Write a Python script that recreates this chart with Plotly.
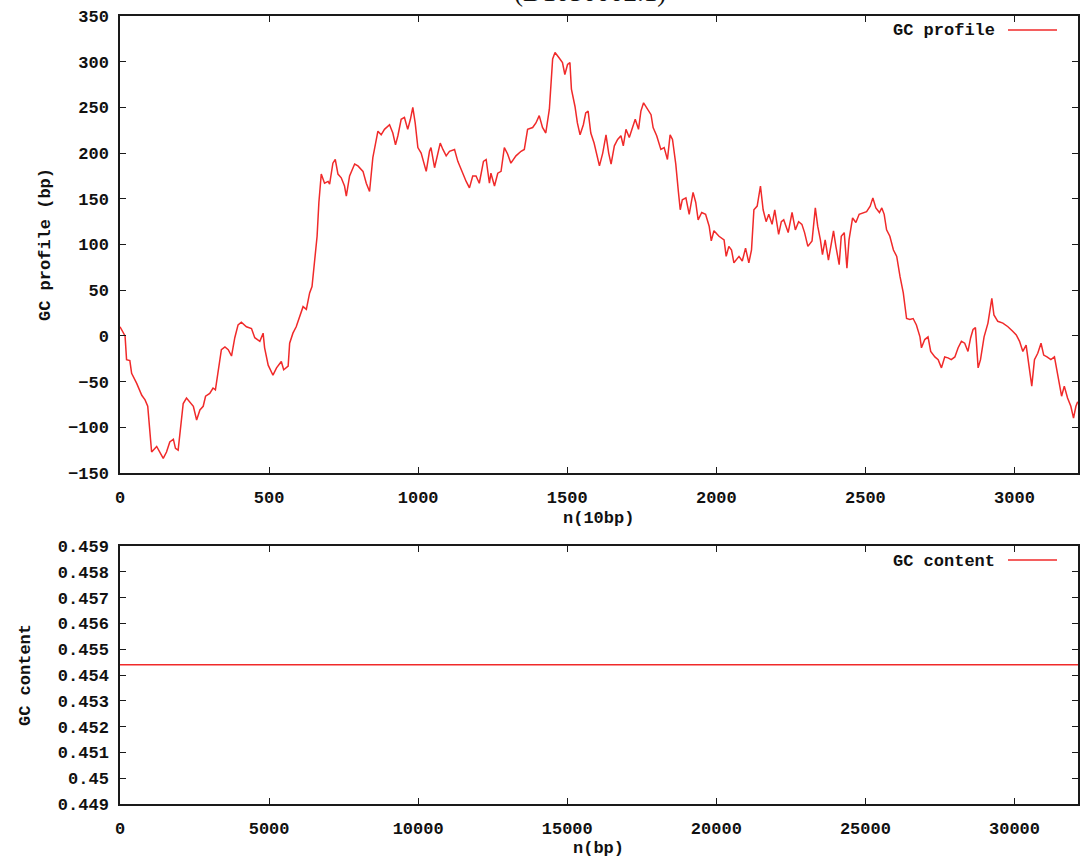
import plotly.graph_objects as go

# GC profile (cumulative GC skew), position in units of 10 bp
profile_x = [
    0, 17, 22, 33, 39, 56, 73, 84, 93, 106, 123, 134, 145, 156, 167, 179, 186, 195,
    206, 212, 223, 234, 246, 257, 268, 279, 287, 301, 312, 320, 329, 340, 352, 363,
    374, 385, 396, 407, 424, 441, 452, 469, 480, 485, 497, 513, 525, 541, 549, 564,
    569, 580, 591, 603, 614, 625, 636, 644, 653, 661, 667, 675, 686, 698, 703, 714,
    722, 731, 742, 753, 759, 770, 787, 798, 815, 826, 837, 848, 865, 876, 887, 904,
    915, 924, 932, 943, 954, 965, 974, 982, 990, 999, 1010, 1021, 1027, 1038, 1043,
    1055, 1066, 1074, 1083, 1094, 1105, 1122, 1133, 1149, 1161, 1172, 1183, 1194,
    1205, 1219, 1228, 1239, 1244, 1256, 1267, 1278, 1289, 1300, 1311, 1328, 1345,
    1356, 1367, 1384, 1395, 1406, 1417, 1428, 1440, 1451, 1459, 1473, 1484, 1492,
    1501, 1509, 1514, 1526, 1534, 1543, 1554, 1562, 1570, 1579, 1590,
    1608, 1619, 1630, 1639, 1647, 1658, 1669, 1680, 1688, 1697, 1708, 1719, 1728,
    1739, 1747, 1756, 1769, 1781, 1788, 1800, 1814, 1825, 1836, 1845, 1853, 1864,
    1873, 1879, 1886, 1898, 1909, 1922, 1931, 1939, 1951, 1964, 1976, 1983, 1992,
    2009, 2026, 2033, 2042, 2051, 2059, 2076, 2087, 2098, 2109, 2118, 2122, 2126,
    2137, 2148, 2157, 2167, 2176, 2187, 2196, 2209, 2218, 2226, 2241, 2254, 2265,
    2276, 2287, 2296, 2307, 2321, 2332, 2340, 2349, 2356, 2365, 2376, 2384, 2393,
    2401, 2412, 2419, 2429, 2438, 2445, 2457, 2468, 2479, 2493, 2504, 2516, 2525,
    2535, 2547, 2555, 2563, 2571, 2582, 2594, 2605, 2616, 2627, 2638, 2649, 2660,
    2671, 2683, 2688, 2699, 2710, 2719, 2733, 2744, 2755, 2766, 2777, 2788, 2800,
    2811, 2822, 2833, 2844, 2853, 2861, 2869, 2878, 2886, 2898, 2911, 2920, 2924,
    2931, 2944, 2961, 2978, 2994, 3006, 3017, 3028, 3039, 3050, 3058, 3067, 3078,
    3089, 3098, 3109, 3122, 3134, 3145, 3158, 3167, 3178, 3189, 3198, 3206, 3212,
]
profile_y = [
    10, 0, -26, -27, -41, -52, -65, -70, -77, -127, -121, -128, -134, -127, -116,
    -113, -123, -125, -92, -74, -68, -72, -77, -92, -81, -77, -66, -63, -57, -59,
    -39, -15, -12, -15, -22, -2, 12, 15, 10, 8, -2, -6, 3, -13, -32, -43, -35, -28,
    -37, -33, -8, 3, 10, 21, 32, 29, 47, 54, 83, 109, 146, 177, 167, 169, 166, 189,
    193, 177, 173, 164, 153, 175, 188, 186, 180, 167, 158, 195, 224, 220, 226, 231,
    222, 209, 219, 237, 239, 226, 237, 250, 233, 206, 200, 188, 180, 202, 206, 184,
    199, 211, 204, 197, 202, 204, 191, 178, 169, 162, 175, 175, 167, 191, 193, 167,
    178, 164, 178, 180, 206, 199, 189, 197, 202, 204, 226, 228, 233, 241, 228, 222,
    248, 303, 310, 304, 299, 286, 297, 299, 270, 251, 233, 220, 231, 244, 246, 222,
    211,
    186, 200, 220, 200, 188, 208, 215, 219, 208, 226, 217, 228, 237, 226, 246, 255,
    248, 242, 228, 219, 204, 206, 193, 220, 215, 188, 157, 138, 149, 151, 133, 157,
    146, 127, 135, 133, 120, 104, 115, 109, 105, 87, 98, 94, 80, 87, 82, 96, 80, 94,
    116, 138, 142, 164, 138, 125, 133, 122, 138, 111, 125, 127, 113, 135, 116, 125,
    122, 113, 98, 104, 140, 120, 105, 89, 105, 83, 98, 115, 98, 78, 109, 113, 74,
    105, 129, 124, 133, 135, 136, 142, 151, 140, 135, 140, 133, 116, 109, 94, 87,
    65, 47, 19, 18, 19, 12, -1, -13, -4, -1, -17, -23, -26, -35, -23, -24, -26, -23,
    -13, -6, -8, -17, -2, 7, 9, -35, -26, -1, 14, 32, 41, 23, 16, 14, 10, 5, 1, -6,
    -17, -10, -35, -55, -26, -19, -8, -21, -23, -26, -23, -44, -66, -55, -68, -77,
    -90, -77, -72,
]

# Overall GC content over the sequence, position in bp
content_x = [0, 32130]
content_y = [0.4544, 0.4544]

x_ticks_top = [0, 500, 1000, 1500, 2000, 2500, 3000]
y_ticks_top = [-150, -100, -50, 0, 50, 100, 150, 200, 250, 300, 350]
x_ticks_bottom = [0, 5000, 10000, 15000, 20000, 25000, 30000]
x_ticktext_bottom = ["0", "5000", "10000", "15000", "20000", "25000", "30000"]
y_ticks_bottom = [0.449, 0.45, 0.451, 0.452, 0.453, 0.454, 0.455, 0.456, 0.457, 0.458, 0.459]
y_ticktext_bottom = ["0.449", "0.45", "0.451", "0.452", "0.453", "0.454",
                     "0.455", "0.456", "0.457", "0.458", "0.459"]

W, H = 1080, 863
RED = "#f02a2a"
AX = "#1a1a1a"
FONT = dict(family="Liberation Mono, DejaVu Sans Mono, monospace", size=17, color="#111", weight="bold")

def px_x(p):
    return p / W

def px_y(p):
    return 1 - p / H

fig = go.Figure()
fig.add_trace(go.Scatter(x=profile_x, y=profile_y, mode="lines",
                         line=dict(color=RED, width=1.5), xaxis="x", yaxis="y",
                         showlegend=False, hoverinfo="skip"))
fig.add_trace(go.Scatter(x=content_x, y=content_y, mode="lines",
                         line=dict(color=RED, width=1.5), xaxis="x2", yaxis="y2",
                         showlegend=False, hoverinfo="skip"))

axis_common = dict(showgrid=False, zeroline=False, showline=True, linecolor=AX, linewidth=1.5,
                   mirror="allticks", ticks="inside", ticklen=6, tickwidth=1.2, tickcolor=AX,
                   tickfont=FONT)

dom_x = [px_x(120), px_x(1078)]
fig.update_layout(
    width=W, height=H,
    margin=dict(l=0, r=0, t=0, b=0, autoexpand=False),
    paper_bgcolor="white", plot_bgcolor="white",
    xaxis=dict(domain=dom_x, range=[0, 3213], tickvals=x_ticks_top, anchor="y",
               ticklabelstandoff=8, **axis_common),
    yaxis=dict(domain=[px_y(473), px_y(16)], range=[-150, 350], tickvals=y_ticks_top,
               anchor="x", ticklabelstandoff=6, **axis_common),
    xaxis2=dict(domain=dom_x, range=[0, 32130], tickvals=x_ticks_bottom,
                ticktext=x_ticktext_bottom, anchor="y2", ticklabelstandoff=8, **axis_common),
    yaxis2=dict(domain=[px_y(804), px_y(546)], range=[0.449, 0.459], tickvals=y_ticks_bottom,
                ticktext=y_ticktext_bottom, anchor="x2", ticklabelstandoff=6, **axis_common),
)

annotations = [
    # title line running off the top edge
    dict(text="(D1050002.1)", x=px_x(590), y=px_y(9), xref="paper", yref="paper",
         xanchor="center", yanchor="bottom", showarrow=False,
         font=dict(family="Liberation Serif, Times New Roman, serif", size=27, color="#111")),
    dict(text="n(10bp)", x=px_x(598), y=px_y(518), xref="paper", yref="paper",
         xanchor="center", yanchor="middle", showarrow=False, font=FONT),
    dict(text="GC profile (bp)", x=px_x(46), y=px_y(245), xref="paper", yref="paper",
         xanchor="center", yanchor="middle", textangle=-90, showarrow=False, font=FONT),
    dict(text="n(bp)", x=px_x(598), y=px_y(848), xref="paper", yref="paper",
         xanchor="center", yanchor="middle", showarrow=False, font=FONT),
    dict(text="GC content", x=px_x(25), y=px_y(675), xref="paper", yref="paper",
         xanchor="center", yanchor="middle", textangle=-90, showarrow=False, font=FONT),
    # key entries: label on the left, line sample on the right
    dict(text="GC profile", x=px_x(997), y=px_y(31), xref="paper", yref="paper",
         xanchor="right", yanchor="middle", showarrow=False, font=FONT),
    dict(text="GC content", x=px_x(997), y=px_y(561), xref="paper", yref="paper",
         xanchor="right", yanchor="middle", showarrow=False, font=FONT),
]
fig.update_layout(annotations=annotations)

shapes = [
    dict(type="line", xref="paper", yref="paper", x0=px_x(1008), x1=px_x(1057),
         y0=px_y(30), y1=px_y(30), line=dict(color=RED, width=1.5)),
    dict(type="line", xref="paper", yref="paper", x0=px_x(1008), x1=px_x(1057),
         y0=px_y(560), y1=px_y(560), line=dict(color=RED, width=1.5)),
]
fig.update_layout(shapes=shapes)

fig.write_html("out.html")
